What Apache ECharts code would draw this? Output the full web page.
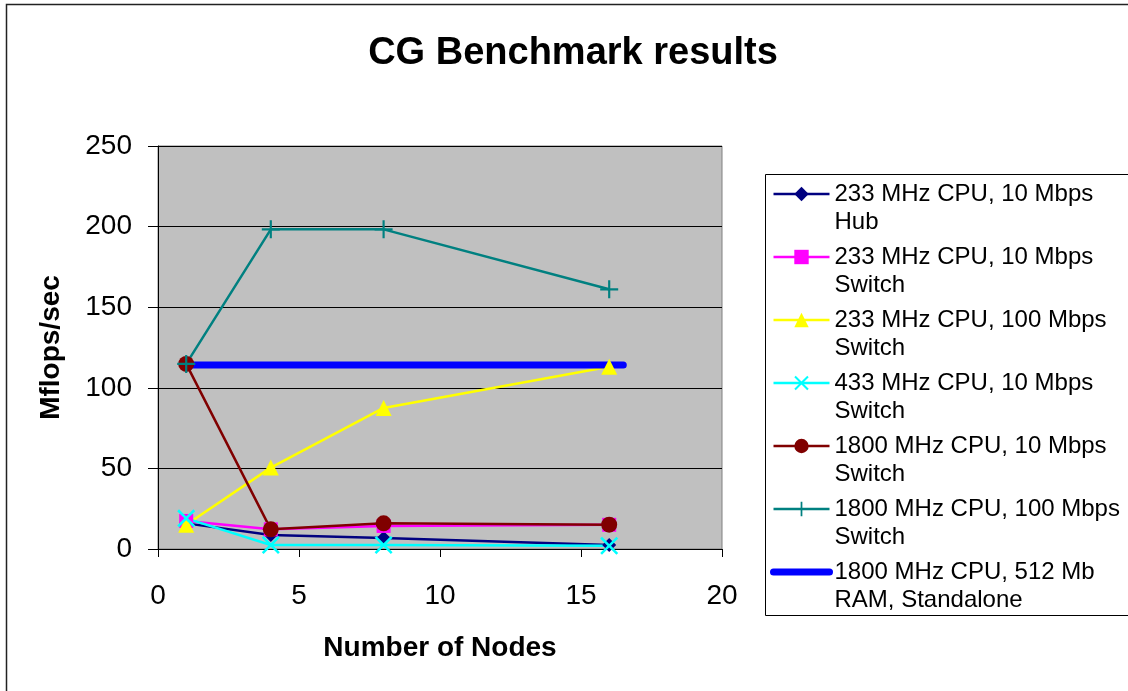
<!DOCTYPE html>
<html>
<head>
<meta charset="utf-8">
<script src="https://cdn.jsdelivr.net/npm/echarts@6/dist/echarts.min.js"></script>
<style>
  html, body { margin: 0; padding: 0; background: #fff; overflow: hidden; }
  #chart { width: 1128px; height: 691px; }
</style>
</head>
<body>
<div id="chart"></div>
<script>
// node counts
const nodes = [1, 4, 8, 16]
const standaloneNodes = [1, 16.5]

// Mflops/sec per configuration
const hub233 = [15.9, 8.7, 6.8, 2.5]
const switch233 = [17.4, 12.2, 14.3, 15.0]
const fast233 = [15.0, 50.5, 87.5, 113.0]
const switch433 = [19.0, 2.5, 2.5, 2.0]
const switch1800 = [114.8, 12.2, 15.9, 15.1]
const fast1800 = [114.8, 198.3, 198.3, 161.1]
const standalone1800 = [114.2, 114.2]

const seriesNames = [
  '233 MHz CPU, 10 Mbps\nHub',
  '233 MHz CPU, 10 Mbps\nSwitch',
  '233 MHz CPU, 100 Mbps\nSwitch',
  '433 MHz CPU, 10 Mbps\nSwitch',
  '1800 MHz CPU, 10 Mbps\nSwitch',
  '1800 MHz CPU, 100 Mbps\nSwitch',
  '1800 MHz CPU, 512 Mb\nRAM, Standalone'
]

const FONT = "'Liberation Sans', Arial, sans-serif"
const xMark = 'path://M0,0.1 L0.1,0 L0.5,0.4 L0.9,0 L1,0.1 L0.6,0.5 L1,0.9 L0.9,1 L0.5,0.6 L0.1,1 L0,0.9 L0.4,0.5 Z'
const plusMark = 'path://M0.44,0 H0.56 V0.44 H1 V0.56 H0.56 V1 H0.44 V0.56 H0 V0.44 H0.44 Z'

function pairs(xs, ys) {
  return xs.map((x, i) => [x, ys[i]])
}

function lineSeries(name, values, color, symbol, size) {
  return {
    name: name,
    type: 'line',
    data: pairs(nodes, values),
    symbol: symbol,
    symbolSize: size,
    showAllSymbol: true,
    itemStyle: { color: color },
    lineStyle: { color: color, width: 2.5 },
    emphasis: { disabled: true }
  }
}

const chart = echarts.init(document.getElementById('chart'))

chart.setOption({
  animation: false,
  backgroundColor: '#fff',
  title: {
    text: 'CG Benchmark results',
    left: 568,
    textAlign: 'center',
    top: 30,
    textStyle: { fontFamily: FONT, fontSize: 38, fontWeight: 'bold', color: '#000' }
  },
  graphic: [
    {
      type: 'rect',
      shape: { x: 6.5, y: 4.5, width: 1200, height: 800 },
      style: { fill: 'none', stroke: '#222', lineWidth: 1.5 },
      silent: true
    },
    {
      type: 'rect',
      shape: { x: 765.5, y: 174.5, width: 400, height: 441 },
      style: { fill: '#fff', stroke: '#000', lineWidth: 1 },
      z: 0,
      silent: true
    }
  ],
  legend: {
    orient: 'vertical',
    left: 770,
    top: 152,
    padding: 0,
    itemWidth: 56,
    itemHeight: 18,
    itemGap: -21,
    lineStyle: { width: 'inherit' },
    data: seriesNames.map((name, i) =>
      i === 6 ? { name: name, itemStyle: { opacity: 0 } } : { name: name }
    ),
    // blank first line keeps the icon level with the first text line
    formatter: name => '\u00a0\n' + name,
    textStyle: {
      fontFamily: FONT,
      fontSize: 24,
      lineHeight: 28,
      color: '#000'
    },
    z: 5
  },
  grid: {
    left: 158,
    right: 406,
    top: 146,
    bottom: 142,
    show: true,
    backgroundColor: '#c0c0c0',
    borderColor: '#808080',
    borderWidth: 1
  },
  xAxis: {
    type: 'value',
    min: 0,
    max: 20,
    interval: 5,
    name: 'Number of Nodes',
    nameLocation: 'middle',
    nameGap: 85,
    nameTextStyle: { fontFamily: FONT, fontSize: 28, fontWeight: 'bold', color: '#000' },
    axisLine: { show: true, onZero: false, lineStyle: { color: '#000', width: 1 } },
    axisTick: { show: true, length: 8, lineStyle: { color: '#000' } },
    axisLabel: { fontFamily: FONT, fontSize: 28, color: '#000', margin: 33 },
    splitLine: { show: false }
  },
  yAxis: {
    type: 'value',
    min: 0,
    max: 250,
    interval: 50,
    name: 'Mflops/sec',
    nameLocation: 'middle',
    nameGap: 93,
    nameRotate: 90,
    nameTextStyle: { fontFamily: FONT, fontSize: 28, fontWeight: 'bold', color: '#000' },
    axisLine: { show: true, lineStyle: { color: '#000', width: 1 } },
    axisTick: { show: true, length: 10, lineStyle: { color: '#000' } },
    axisLabel: { fontFamily: FONT, fontSize: 28, color: '#000', margin: 26 },
    splitLine: { show: true, lineStyle: { color: '#000', width: 1 } }
  },
  series: [
    lineSeries(seriesNames[0], hub233, '#000080', 'diamond', 14),
    lineSeries(seriesNames[1], switch233, '#ff00ff', 'rect', 14),
    lineSeries(seriesNames[2], fast233, '#ffff00', 'triangle', 16),
    lineSeries(seriesNames[3], switch433, '#00ffff', xMark, 18),
    lineSeries(seriesNames[4], switch1800, '#800000', 'circle', 16),
    lineSeries(seriesNames[5], fast1800, '#008080', plusMark, 18),
    {
      name: seriesNames[6],
      type: 'line',
      data: pairs(standaloneNodes, standalone1800),
      symbol: 'none',
      itemStyle: { color: '#0000ff' },
      lineStyle: { color: '#0000ff', width: 7, cap: 'round' },
      emphasis: { disabled: true }
    }
  ]
})
</script>
</body>
</html>
